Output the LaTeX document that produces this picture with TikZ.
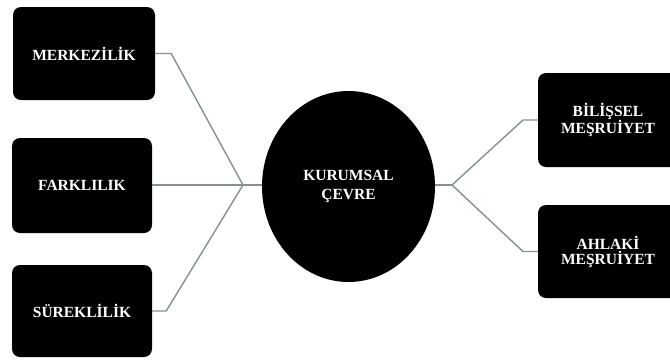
\documentclass[tikz,border=0pt]{standalone}
\usepackage{fontspec}
\setmainfont{Liberation Serif}
\usetikzlibrary{shapes.geometric}
\definecolor{linegray}{HTML}{86908F}
\begin{document}
\begin{tikzpicture}[x=1pt,y=-1pt,
  boxnode/.style={fill=black,rounded corners=8pt,inner sep=0pt,
    font=\fontsize{15.5}{15}\selectfont\bfseries,text=white,align=center},
  link/.style={draw=linegray,line width=1.4pt}]
\useasboundingbox (0,0) rectangle (670,360);
\begin{scope}
\clip (0,0) rectangle (670,360);
\node[boxnode,minimum width=142pt,minimum height=93pt] (mer) at (84,53.5) {MERKEZİLİK};
\node[boxnode,minimum width=140pt,minimum height=95pt] (far) at (82,185.5) {FARKLILIK};
\node[boxnode,minimum width=140pt,minimum height=92pt] (sur) at (82,311) {SÜREKLİLİK};
\node[ellipse,fill=black,minimum width=173pt,minimum height=191pt,inner sep=0pt,
  font=\fontsize{15.5}{19.5}\selectfont\bfseries,text=white,align=center] (kc) at (348.5,186.5) {KURUMSAL\\ÇEVRE};
\node[boxnode,minimum width=140pt,minimum height=94pt] (bil) at (608,120) {BİLİŞSEL\\MEŞRUİYET};
\node[boxnode,minimum width=140pt,minimum height=93pt] (ahl) at (608,251.5) {AHLAKİ\\MEŞRUİYET};
\end{scope}
\coordinate (jl) at (243,185);
\coordinate (jr) at (452,185);
\draw[link] (mer.east) -- ++(16,0) -- (jl);
\draw[link] (far.east |- jl) -- (jl);
\draw[link] (sur.east) -- ++(14,0) -- (jl);
\draw[link] (jl) -- (kc.west |- jl);
\draw[link] (kc.east |- jr) -- (jr);
\draw[link] (jr) -- (523,120) -- (bil.west);
\draw[link] (jr) -- (523,251.5) -- (ahl.west);
\end{tikzpicture}
\end{document}
